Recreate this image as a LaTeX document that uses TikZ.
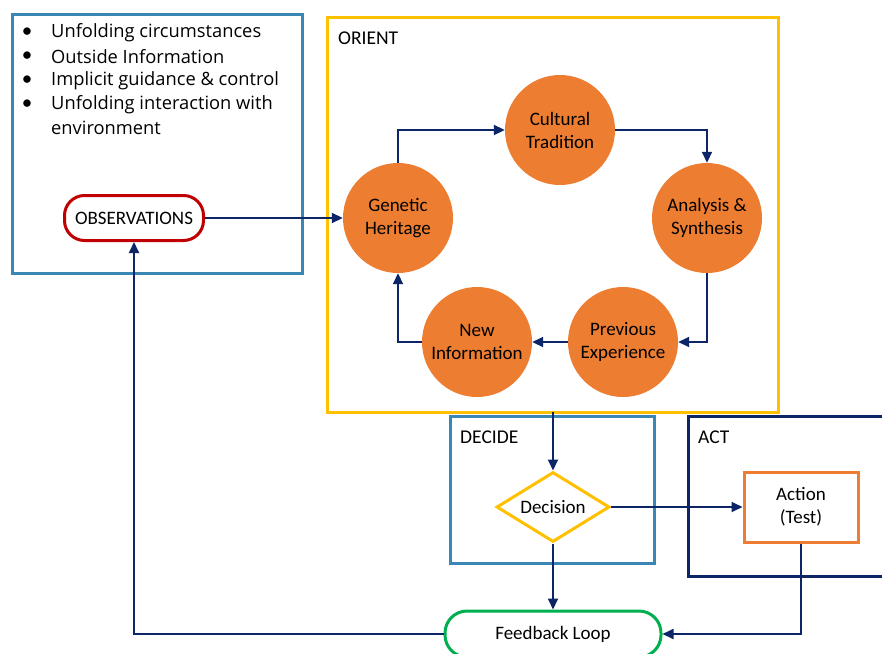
\documentclass[tikz,border=0pt]{standalone}
\usepackage{fontspec}
\setmainfont{Carlito}
\newfontfamily\listfont{Open Sans}
\usetikzlibrary{arrows.meta,shapes.geometric}
\definecolor{obsblue}{HTML}{3A87B5}
\definecolor{orientyel}{HTML}{FFC000}
\definecolor{circor}{HTML}{ED7D31}
\definecolor{navy}{HTML}{0B2566}
\definecolor{actnavy}{HTML}{0E2565}
\definecolor{obsred}{HTML}{C00000}
\definecolor{fbgreen}{HTML}{00B050}
\tikzset{
  x=1pt,y=-1pt,
  frame/.style={line width=3pt},
  circ/.style={circle,fill=circor,minimum size=110pt,inner sep=0pt,align=center,font=\fontsize{19}{23}\selectfont},
  conn/.style={navy,line width=1.8pt,-{Triangle[length=11pt,width=10pt]}},
  lbl/.style={font=\fontsize{19.5}{22}\selectfont,anchor=west,inner sep=0pt},
  boxtxt/.style={font=\fontsize{19}{23}\selectfont},
  listtxt/.style={font=\listfont\fontsize{18.3}{22}\selectfont,anchor=west,inner sep=0pt},
  bul/.style={font=\fontsize{21}{21}\selectfont,inner sep=0pt},
}
\begin{document}
\begin{tikzpicture}
\clip (0,0) rectangle (882,653);
\fill[white] (0,0) rectangle (882,653);
% frames
\draw[frame,obsblue] (12,14) rectangle (302,273);
\draw[frame,orientyel] (327,17) rectangle (778,412);
\draw[frame,obsblue] (450,416) rectangle (654,563);
\draw[frame,actnavy] (688,416) rectangle (895,576);
\node[lbl] (orientlbl) at (338,38) {ORIENT};
\node[lbl] (decidelbl) at (460,437) {DECIDE};
\node[lbl] (actlbl) at (698,437) {ACT};
% list
\foreach \yy/\tt [count=\i] in {33/Unfolding circumstances,57/Outside Information,81/Implicit guidance \& control,105/Unfolding interaction with}{
  \node[bul] (b\i) at (27,\yy) {\textbullet};
  \node[listtxt] (l\i) at (51,\yy) {\tt};
}
\node[listtxt] (l5) at (51,128) {environment};
% observations
\node[draw=obsred,line width=3pt,rounded corners=20pt,minimum width=139pt,minimum height=45pt,boxtxt] (obs) at (134,218) {OBSERVATIONS};
% circles
\node[circ] (cult) at (560,130) {Cultural\\Tradition};
\node[circ] (gen) at (398,218) {Genetic\\Heritage};
\node[circ] (ana) at (707,218) {Analysis \&\\Synthesis};
\node[circ] (prev) at (623,342) {Previous\\Experience};
\node[circ] (new) at (477,342) {New\\Information};
% decision etc
\node[diamond,draw=orientyel,line width=3pt,aspect=1.6,minimum width=113pt,minimum height=70pt,inner sep=0pt,boxtxt] (dec) at (553,507) {Decision};
\node[draw=circor,line width=3pt,minimum width=114pt,minimum height=70pt,align=center,boxtxt] (act) at (801,507) {Action\\(Test)};
\node[draw=fbgreen,line width=3pt,rounded corners=22pt,minimum width=216pt,minimum height=46pt,boxtxt] (fb) at (553,634) {Feedback Loop};
\coordinate (ob) at (553,412);
% connectors
\draw[conn] (obs.east) -- (gen.west);
\draw[conn] (gen.north) |- (cult.west);
\draw[conn] (cult.east) -| (ana.north);
\draw[conn] (ana.south) |- (prev.east);
\draw[conn] (prev.west) -- (new.east);
\draw[conn] (new.west) -| (gen.south);
\draw[conn] (ob) -- (dec.north);
\draw[conn] (dec.east) -- (act.west);
\draw[conn] (dec.south) -- (fb.north);
\draw[conn] (act.south) |- (fb.east);
\draw[conn] (fb.west) -| (obs.south);
\end{tikzpicture}
\end{document}
